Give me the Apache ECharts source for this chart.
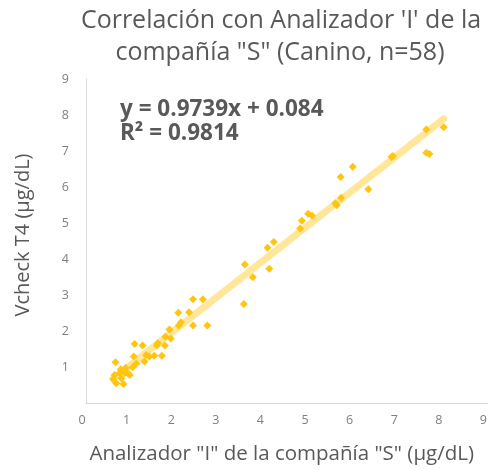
<!DOCTYPE html>
<html>
<head>
<meta charset="utf-8">
<script src="https://cdn.jsdelivr.net/npm/echarts@6/dist/echarts.min.js"></script>
<style>
  html, body { margin: 0; padding: 0; background: #fff; }
  #chart { width: 490px; height: 470px; }
</style>
</head>
<body>
<div id="chart"></div>
<script>
// values
var analizadorX = [8.02, 7.63, 7.63, 7.70, 6.88, 6.85, 5.98, 5.71, 6.33, 5.72,
  5.59, 5.62, 4.98, 5.07, 4.84, 4.80, 4.21, 4.07, 3.56, 4.11,
  3.74, 3.54, 2.40, 2.62, 2.07, 2.31, 2.13, 2.08, 2.40, 2.72,
  1.87, 1.78, 1.90, 1.77, 1.59, 1.27, 1.09, 1.70, 1.53, 1.42,
  1.35, 1.07, 1.31, 1.13, 0.66, 1.05, 0.89, 0.78, 0.76, 0.87,
  0.98, 0.64, 0.61, 0.79, 0.68, 0.84, 0.94, 1.61];
var vcheckY = [7.66, 7.60, 6.95, 6.92, 6.86, 6.83, 6.56, 6.28, 5.94, 5.70,
  5.55, 5.49, 5.26, 5.20, 5.06, 4.85, 4.47, 4.31, 3.85, 3.73,
  3.49, 2.75, 2.88, 2.88, 2.51, 2.52, 2.24, 2.15, 2.15, 2.15,
  2.04, 1.84, 1.79, 1.60, 1.60, 1.60, 1.64, 1.31, 1.31, 1.29,
  1.33, 1.29, 1.15, 1.10, 1.13, 0.99, 0.98, 0.94, 0.83, 0.83,
  0.78, 0.78, 0.66, 0.69, 0.55, 0.53, 0.82, 1.66];
var slope = 0.9739;
var intercept = 0.084;
var rSquared = 0.9814;
var titleLines = ["Correlación con Analizador 'I' de la", 'compañía "S" (Canino, n=58)'];
var axisTicks = [0, 1, 2, 3, 4, 5, 6, 7, 8, 9];

var points = analizadorX.map(function (x, i) { return [x, vcheckY[i]]; });
var xMin = Math.min.apply(null, analizadorX);
var xMax = Math.max.apply(null, analizadorX);
var trend = [[xMin, slope * xMin + intercept], [xMax, slope * xMax + intercept]];

var font = '"Open Sans", "Noto Sans", sans-serif';
var chart = echarts.init(document.getElementById('chart'));

var option = {
  backgroundColor: '#fff',
  animation: false,
  graphic: [
    {
      type: 'text', x: 281, y: 21,
      style: { text: titleLines[0], font: '25px ' + font, fill: '#595959', align: 'center', verticalAlign: 'middle' }
    },
    {
      type: 'text', x: 280, y: 53,
      style: { text: titleLines[1], font: '25px ' + font, fill: '#595959', align: 'center', verticalAlign: 'middle' }
    },
    {
      type: 'text', x: 120, y: 98,
      style: {
        text: 'y = ' + slope + 'x + ' + intercept + '\nR² = ' + rSquared,
        font: 'bold 22.5px ' + font,
        fill: '#595959',
        lineHeight: 24
      }
    }
  ],
  grid: {
    left: 86,
    top: 79,
    width: 405,
    height: 324
  },
  xAxis: {
    type: 'value',
    min: axisTicks[0],
    max: axisTicks[axisTicks.length - 1],
    interval: 1,
    name: 'Analizador "I" de la compañía "S" (µg/dL)',
    nameLocation: 'middle',
    nameGap: 41,
    nameTextStyle: { fontFamily: font, fontSize: 20.5, color: '#595959', padding: [0, 10, 0, 0] },
    axisLine: { lineStyle: { color: '#d9d9d9', width: 1 } },
    axisTick: { show: false },
    splitLine: { show: false },
    axisLabel: { fontFamily: font, fontSize: 12.5, color: '#7f7f7f', margin: 11, padding: [0, 8, 0, 0] }
  },
  yAxis: {
    type: 'value',
    min: axisTicks[0],
    max: axisTicks[axisTicks.length - 1],
    interval: 1,
    name: 'Vcheck T4 (µg/dL)',
    nameLocation: 'middle',
    nameGap: 53,
    nameTextStyle: { fontFamily: font, fontSize: 20, color: '#595959', padding: [0, 0, 0, 12] },
    axisLine: { show: true, lineStyle: { color: '#d9d9d9', width: 1 } },
    axisTick: { show: false },
    splitLine: { show: false },
    axisLabel: {
      fontFamily: font, fontSize: 12.5, color: '#7f7f7f', margin: 17,
      formatter: function (v) { return v === 0 ? '' : v; }
    }
  },
  series: [
    {
      name: 'Tendencia',
      type: 'line',
      data: trend,
      symbol: 'none',
      silent: true,
      lineStyle: { color: '#ffe699', width: 7, cap: 'round' },
      z: 1
    },
    {
      name: 'Muestras',
      type: 'scatter',
      data: points,
      symbol: 'diamond',
      symbolSize: 8,
      itemStyle: { color: '#ffc512', opacity: 1 },
      z: 2
    }
  ]
};

chart.setOption(option);
</script>
</body>
</html>
